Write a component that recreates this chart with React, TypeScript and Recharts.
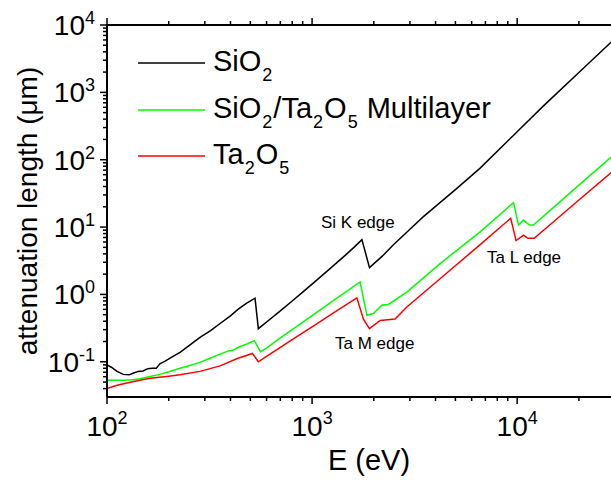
import React from 'react';
import { LineChart, Line, XAxis, YAxis, Legend } from 'recharts';

const FONT = '"Liberation Sans", Arial, Helvetica, sans-serif';

// ---- data (E in eV, attenuation length in µm) ----
const sio2E = [100, 105, 112, 120, 128, 135, 142, 150, 158, 166, 174, 181, 192, 205, 227, 255, 284, 320, 356, 400, 435, 480, 527, 547, 600, 700, 800, 900, 1000, 1200, 1450, 1600, 1750, 1905, 2200, 2500, 3000, 3490, 5000, 6600, 10000, 13400, 20000, 30000];
const sio2V = [0.090, 0.083, 0.072, 0.065, 0.064, 0.068, 0.072, 0.073, 0.079, 0.080, 0.080, 0.093, 0.102, 0.115, 0.138, 0.18, 0.23, 0.29, 0.37, 0.48, 0.60, 0.74, 0.88, 0.31, 0.39, 0.57, 0.80, 1.08, 1.42, 2.3, 3.8, 5.0, 6.5, 2.5, 3.7, 5.5, 9.3, 14.3, 36, 75, 260, 625, 1975, 6300];

const multiE = [100, 120, 133, 145, 160, 181, 200, 227, 255, 284, 320, 356, 390, 410, 435, 480, 523, 560, 600, 700, 800, 1000, 1300, 1715, 1850, 1990, 2188, 2357, 2897, 4210, 6600, 9600, 10150, 10740, 11480, 12000, 15000, 20000, 30000];
const multiV = [0.053, 0.053, 0.054, 0.056, 0.060, 0.065, 0.071, 0.080, 0.089, 0.098, 0.114, 0.13, 0.145, 0.148, 0.163, 0.184, 0.206, 0.141, 0.16, 0.227, 0.30, 0.485, 0.85, 1.53, 0.49, 0.52, 0.69, 0.71, 1.08, 2.87, 8.5, 23, 10.7, 12.7, 10.7, 10.7, 19.4, 42, 123];

const ta2o5E = [100, 110, 116, 135, 162, 200, 227, 284, 356, 435, 470, 512, 547, 600, 700, 850, 1000, 1300, 1653, 1780, 1905, 2148, 2540, 2897, 4207, 5900, 6600, 9300, 9880, 10740, 11300, 12100, 15000, 20000, 30000];
const ta2o5V = [0.040, 0.044, 0.046, 0.051, 0.057, 0.061, 0.064, 0.072, 0.087, 0.113, 0.122, 0.133, 0.10, 0.12, 0.163, 0.24, 0.33, 0.556, 0.89, 0.43, 0.31, 0.41, 0.43, 0.65, 1.71, 4.1, 5.5, 13.5, 6.3, 7.6, 6.8, 6.8, 11.9, 25.2, 72];

const seriesNames = ['SiO2', 'SiO2/Ta2O5 Multilayer', 'Ta2O5'];
const seriesColors = ['#000000', '#00ff00', '#ff0000'];

// ---- ticks ----
const xTicks = [100, 200, 300, 400, 500, 600, 700, 800, 900, 1000, 2000, 3000, 4000, 5000, 6000, 7000, 8000, 9000, 10000, 20000, 30000];
const xMajor = [100, 1000, 10000];
const xExp = ['2', '3', '4'];

const yTicks = [0.04, 0.05, 0.06, 0.07, 0.08, 0.09, 0.1, 0.2, 0.3, 0.4, 0.5, 0.6, 0.7, 0.8, 0.9, 1, 2, 3, 4, 5, 6, 7, 8, 9, 10, 20, 30, 40, 50, 60, 70, 80, 90, 100, 200, 300, 400, 500, 600, 700, 800, 900, 1000, 2000, 3000, 4000, 5000, 6000, 7000, 8000, 9000, 10000];
const yMajor = [0.1, 1, 10, 100, 1000, 10000];
const yExp = ['-1', '0', '1', '2', '3', '4'];

const annotations = [
  { text: 'Si K edge', x: 321, y: 228 },
  { text: 'Ta L edge', x: 487, y: 263 },
  { text: 'Ta M edge', x: 335, y: 349 },
];

const toPoints = (es: number[], vs: number[]) => es.map((e, i) => ({ e, v: vs[i] }));
const sio2Data = toPoints(sio2E, sio2V);
const multiData = toPoints(multiE, multiV);
const ta2o5Data = toPoints(ta2o5E, ta2o5V);

const near = (a: number, list: number[]) => list.findIndex((m) => Math.abs(a - m) / m < 1e-6);

const MAJ = 7;
const MIN = 4;

const BottomTick = (props: any) => {
  const { x, y, payload } = props;
  const idx = near(payload.value, xMajor);
  const major = idx >= 0;
  return (
    <g>
      <line x1={x} x2={x} y1={y} y2={y + (major ? MAJ : MIN)} stroke="#000" strokeWidth={1.5} />
      {major && (
        <text x={x} y={y + 39} textAnchor="middle" fontFamily={FONT} fontSize={28} fill="#000">
          10<tspan dy={-12} fontSize={18}>{xExp[idx]}</tspan>
        </text>
      )}
    </g>
  );
};

const TopTick = (props: any) => {
  const { x, y, payload } = props;
  const major = near(payload.value, xMajor) >= 0;
  return <line x1={x} x2={x} y1={y} y2={y - (major ? MAJ : MIN)} stroke="#000" strokeWidth={1.5} />;
};

const LeftTick = (props: any) => {
  const { x, y, payload } = props;
  const idx = near(payload.value, yMajor);
  const major = idx >= 0;
  return (
    <g>
      <line x1={x} x2={x - (major ? MAJ : MIN)} y1={y} y2={y} stroke="#000" strokeWidth={1.5} />
      {major && (
        <text x={x - 12} y={y + 10} textAnchor="end" fontFamily={FONT} fontSize={28} fill="#000">
          10<tspan dy={-11} fontSize={18}>{yExp[idx]}</tspan>
        </text>
      )}
    </g>
  );
};

const RightTick = (props: any) => {
  const { x, y, payload } = props;
  const major = near(payload.value, yMajor) >= 0;
  return <line x1={x} x2={x + (major ? MAJ : MIN)} y1={y} y2={y} stroke="#000" strokeWidth={1.5} />;
};

const XTitle = (props: any) => {
  const vb = props.viewBox || { x: 107, y: 397, width: 508, height: 30 };
  return (
    <text x={vb.x + vb.width / 2 + 8} y={vb.y + 73} textAnchor="middle" fontFamily={FONT} fontSize={29} fill="#000">
      E (eV)
    </text>
  );
};

const YTitle = (props: any) => {
  const vb = props.viewBox || { x: 47, y: 25, width: 60, height: 372 };
  const cx = vb.x - 10;
  const cy = vb.y + vb.height / 2;
  return (
    <text x={cx} y={cy} transform={`rotate(-90 ${cx} ${cy})`} textAnchor="middle" fontFamily={FONT} fontSize={28} fill="#000">
      attenuation length (μm)
    </text>
  );
};

const Chem = ({ name }: { name: string }) => {
  const parts: React.ReactNode[] = [];
  let buf = '';
  for (let i = 0; i < name.length; i++) {
    const c = name[i];
    if (/[0-9]/.test(c) && i > 0 && /[A-Za-z]/.test(name[i - 1])) {
      if (buf) parts.push(buf);
      buf = '';
      parts.push(
        <span key={i} style={{ fontSize: 18, position: 'relative', top: 10, verticalAlign: 'baseline', margin: '0 1px' }}>{c}</span>
      );
    } else {
      buf += c;
    }
  }
  if (buf) parts.push(buf);
  return <>{parts}</>;
};

const renderLegend = (props: any) => {
  const payload = props.payload || [];
  return (
    <div style={{ fontFamily: FONT, fontSize: 29, color: '#000' }}>
      {payload.map((p: any, i: number) => (
        <div key={i} style={{ height: 46.5, display: 'flex', alignItems: 'center', whiteSpace: 'nowrap', lineHeight: '46px' }}>
          <svg width={67} height={4} style={{ display: 'block', marginRight: 8 }}>
            <line x1={0} x2={67} y1={2} y2={2} stroke={p.color} strokeWidth={1.5} />
          </svg>
          <span><Chem name={String(p.value)} /></span>
        </div>
      ))}
    </div>
  );
};

export default function App() {
  return (
    <div style={{ position: 'absolute', left: 0, top: 0, width: 611, height: 480, overflow: 'hidden', background: '#fff' }}>
      <LineChart width={630} height={480} margin={{ top: 15, right: 5, bottom: 53, left: 47 }}>
        <XAxis
          xAxisId="b"
          dataKey="e"
          type="number"
          scale="log"
          domain={[100, 30000]}
          allowDataOverflow
          ticks={xTicks}
          interval={0}
          tick={<BottomTick />}
          tickLine={false}
          tickSize={0}
          tickMargin={0}
          axisLine={{ stroke: '#000', strokeWidth: 2 }}
          height={30}
          label={XTitle}
        />
        <XAxis
          xAxisId="t"
          orientation="top"
          dataKey="e"
          type="number"
          scale="log"
          domain={[100, 30000]}
          allowDataOverflow
          ticks={xTicks}
          interval={0}
          tick={<TopTick />}
          tickLine={false}
          tickSize={0}
          tickMargin={0}
          axisLine={{ stroke: '#000', strokeWidth: 2 }}
          height={10}
        />
        <YAxis
          yAxisId="l"
          dataKey="v"
          type="number"
          scale="log"
          domain={[0.03, 10000]}
          allowDataOverflow
          ticks={yTicks}
          interval={0}
          tick={<LeftTick />}
          tickLine={false}
          tickSize={0}
          tickMargin={0}
          axisLine={{ stroke: '#000', strokeWidth: 2 }}
          width={60}
          label={YTitle}
        />
        <YAxis
          yAxisId="r"
          orientation="right"
          dataKey="v"
          type="number"
          scale="log"
          domain={[0.03, 10000]}
          allowDataOverflow
          ticks={yTicks}
          interval={0}
          tick={<RightTick />}
          tickLine={false}
          tickSize={0}
          tickMargin={0}
          axisLine={{ stroke: '#000', strokeWidth: 2 }}
          width={10}
        />
        <Legend
          layout="vertical"
          verticalAlign="middle"
          align="center"
          content={renderLegend}
          wrapperStyle={{ position: 'absolute', left: 138, top: 40, right: 'auto', bottom: 'auto', width: 440, height: 140 }}
        />
        <Line xAxisId="b" yAxisId="l" data={sio2Data} dataKey="v" name={seriesNames[0]} type="linear" stroke={seriesColors[0]} strokeWidth={1.5} dot={false} isAnimationActive={false} />
        <Line xAxisId="b" yAxisId="l" data={multiData} dataKey="v" name={seriesNames[1]} type="linear" stroke={seriesColors[1]} strokeWidth={1.5} dot={false} isAnimationActive={false} />
        <Line xAxisId="b" yAxisId="l" data={ta2o5Data} dataKey="v" name={seriesNames[2]} type="linear" stroke={seriesColors[2]} strokeWidth={1.5} dot={false} isAnimationActive={false} />
      </LineChart>
      <svg width={611} height={480} style={{ position: 'absolute', left: 0, top: 0, pointerEvents: 'none' }}>
        {annotations.map((a, i) => (
          <text key={i} x={a.x} y={a.y} fontFamily={FONT} fontSize={17} fill="#000">{a.text}</text>
        ))}
      </svg>
    </div>
  );
}
